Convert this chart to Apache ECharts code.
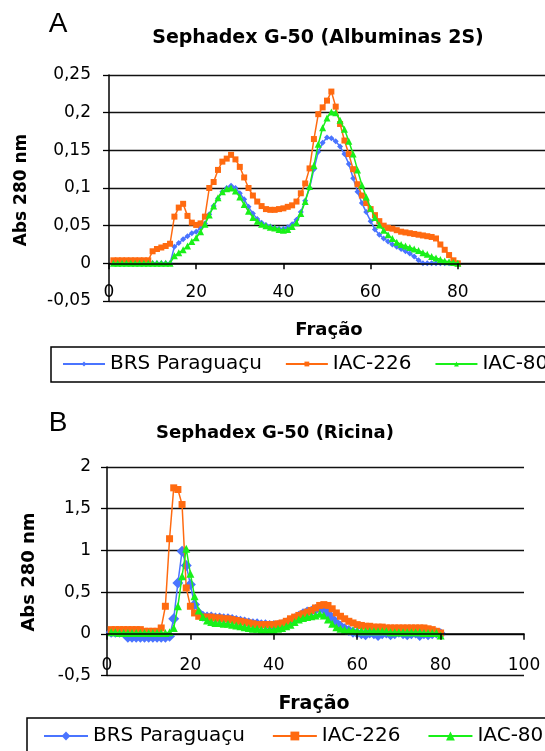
<!DOCTYPE html>
<html>
<head>
<meta charset="utf-8">
<script src="https://cdn.jsdelivr.net/npm/echarts@6/dist/echarts.min.js"></script>
<style>
html,body{margin:0;padding:0;background:#fff;}
#chart{width:545px;height:751px;}
</style>
</head>
<body>
<div id="chart"></div>
<script>
// ---- data ----
const seriesNames = ['BRS Paraguaçu', 'IAC-226', 'IAC-80'];
const fractions = [1,2,3,4,5,6,7,8,9,10,11,12,13,14,15,16,17,18,19,20,
  21,22,23,24,25,26,27,28,29,30,31,32,33,34,35,36,37,38,39,40,
  41,42,43,44,45,46,47,48,49,50,51,52,53,54,55,56,57,58,59,60,
  61,62,63,64,65,66,67,68,69,70,71,72,73,74,75,76,77,78,79,80];

// Panel A: Sephadex G-50 (Albuminas 2S)
const brsA = [0,0,0,0,0,0,0,0,0,0,0,0,0,0,
  0.022,0.027,0.032,0.036,0.04,0.042,
  0.047,0.053,0.065,0.076,0.086,0.095,0.1,0.103,0.1,0.093,
  0.085,0.075,0.066,0.059,0.054,0.051,0.049,0.047,0.046,0.046,
  0.048,0.052,0.058,0.068,0.083,0.1,0.125,0.148,0.16,0.167,
  0.166,0.162,0.155,0.145,0.132,0.113,0.095,0.08,0.068,0.056,
  0.045,0.038,0.033,0.029,0.025,0.022,0.019,0.016,0.013,0.009,
  0.004,0,0,0,0,0,0,0,0,0];
const iac226A = [0.004,0.004,0.004,0.004,0.004,0.004,0.004,0.004,0.004,
  0.016,0.019,0.021,0.023,0.026,0.062,0.074,0.079,0.063,0.054,0.051,
  0.053,0.062,0.1,0.108,0.124,0.135,0.139,0.144,0.138,0.128,
  0.114,0.1,0.09,0.082,0.076,0.072,0.071,0.071,0.072,0.073,
  0.075,0.077,0.082,0.093,0.106,0.126,0.165,0.198,0.207,0.216,
  0.228,0.208,0.185,0.163,0.145,0.125,0.105,0.09,0.08,0.072,
  0.064,0.056,0.05,0.047,0.046,0.044,0.042,0.041,0.04,0.039,
  0.038,0.037,0.036,0.035,0.033,0.025,0.018,0.011,0.004,0];
const iac80A = [0,0,0,0,0,0,0,0,0,0,0,0,0,0,
  0.01,0.014,0.018,0.023,0.029,0.034,
  0.042,0.052,0.064,0.076,0.087,0.095,0.099,0.1,0.096,0.088,
  0.078,0.069,0.061,0.056,0.052,0.05,0.048,0.047,0.045,0.044,
  0.045,0.049,0.054,0.066,0.082,0.102,0.13,0.158,0.18,0.193,
  0.201,0.2,0.19,0.178,0.162,0.145,0.124,0.104,0.088,0.073,
  0.061,0.051,0.044,0.038,0.033,0.028,0.025,0.023,0.021,0.019,
  0.017,0.014,0.012,0.009,0.007,0.005,0.003,0.002,0.001,0];

// Panel B: Sephadex G-50 (Ricina)
const brsB = [0.02,0.02,0.02,0.02,-0.04,-0.04,-0.04,-0.04,-0.04,-0.04,
  -0.04,-0.04,-0.04,-0.04,-0.03,0.18,0.61,0.99,0.82,0.59,
  0.35,0.25,0.21,0.2,0.2,0.19,0.19,0.18,0.18,0.17,
  0.16,0.15,0.14,0.13,0.12,0.12,0.11,0.11,0.1,0.1,
  0.1,0.11,0.13,0.15,0.18,0.21,0.24,0.26,0.27,0.29,
  0.31,0.29,0.24,0.18,0.13,0.09,0.06,0.04,0.02,0.01,
  0,-0.01,0.01,0,-0.02,0,0.01,-0.01,0,0.02,
  0,-0.01,0,0.01,-0.02,0,-0.01,0,0.01,0];
const iac226B = [0.05,0.05,0.05,0.05,0.05,0.05,0.05,0.05,0.03,0.03,
  0.03,0.03,0.07,0.33,1.14,1.75,1.73,1.55,0.55,0.33,
  0.25,0.21,0.2,0.2,0.2,0.19,0.19,0.18,0.18,0.17,
  0.16,0.15,0.14,0.13,0.12,0.11,0.11,0.11,0.11,0.11,
  0.12,0.13,0.15,0.18,0.2,0.22,0.24,0.26,0.28,0.31,
  0.34,0.35,0.34,0.3,0.25,0.21,0.18,0.15,0.13,0.11,
  0.1,0.09,0.09,0.08,0.08,0.08,0.07,0.07,0.07,0.07,
  0.07,0.07,0.07,0.07,0.07,0.07,0.06,0.05,0.03,0.01];
const iac80B = [0.02,0.02,0.01,0.01,0.01,0.01,0.01,0.01,0.01,0.01,
  0.01,0.01,0.01,0.01,0.02,0.07,0.33,0.69,1.02,0.72,
  0.45,0.28,0.2,0.16,0.14,0.13,0.13,0.12,0.12,0.11,
  0.1,0.09,0.08,0.07,0.06,0.06,0.05,0.05,0.05,0.05,
  0.06,0.07,0.09,0.11,0.14,0.17,0.19,0.2,0.21,0.22,
  0.24,0.22,0.17,0.12,0.08,0.06,0.05,0.04,0.04,0.03,
  0.03,0.03,0.03,0.03,0.03,0.03,0.03,0.02,0.02,0.02,
  0.02,0.02,0.02,0.02,0.02,0.01,0.01,0.01,0.01,-0.02];

const xTicks = {min: 0, max: 100, interval: 20};
const yTicksA = {min: -0.05, max: 0.25, interval: 0.05};
const yTicksB = {min: -0.5, max: 2, interval: 0.5};

// ---- styles ----
const colors = ['#4a74ff', '#ff6a10', '#19f019'];
const symbols = ['diamond', 'rect', 'triangle'];
const symSizeA = [6, 6, 7];
const symSizeB = [11, 7, 8];
const black = '#000';
const fmt = v => String(+(+v).toFixed(2)).replace('.', ',');

function pairs(vals) { return fractions.map((f, i) => [f, vals[i]]); }

function mkSeries(name, idx, vals, axis, sizes) {
  return {
    name: name, type: 'line', xAxisIndex: axis, yAxisIndex: axis,
    data: pairs(vals), symbol: symbols[idx], symbolSize: sizes[idx],
    lineStyle: {color: colors[idx], width: 1.5},
    itemStyle: {color: colors[idx]},
    animation: false, z: 3 + idx
  };
}

// x axis sits on y = 0 (shifted up from the grid bottom by "offset")
function xAxisCfg(grid, offset, margin, showMax) {
  return {
    type: 'value', gridIndex: grid, min: xTicks.min, max: xTicks.max, interval: xTicks.interval,
    position: 'bottom', offset: offset,
    axisLine: {show: true, onZero: false, lineStyle: {color: black, width: 1.5}},
    axisTick: {show: true, inside: false, length: 6, lineStyle: {color: black, width: 1.5}},
    axisLabel: {margin: margin, showMaxLabel: showMax, fontFamily: 'DejaVu Sans', fontSize: 17, color: black},
    splitLine: {show: false}, z: 10
  };
}
function yAxisCfg(grid, t, margin) {
  return {
    type: 'value', gridIndex: grid, min: t.min, max: t.max, interval: t.interval,
    axisLine: {show: true, onZero: false, lineStyle: {color: black, width: 1.5}},
    axisTick: {show: true, inside: false, length: 6, lineStyle: {color: black, width: 1.3}},
    axisLabel: {margin: margin, formatter: fmt, fontFamily: 'DejaVu Sans', fontSize: 17, color: black},
    splitLine: {show: true, lineStyle: {color: '#111', width: 1.4}}
  };
}
function txt(text, x, y, font, rot) {
  return {type: 'text', x: x, y: y, rotation: rot || 0, silent: true,
    style: {text: text, font: font, fill: black, align: 'center', verticalAlign: 'middle',
      textAlign: 'center', textVerticalAlign: 'middle'}};
}
function legendCfg(left, top, iw, ih, gap, padding) {
  return {
    data: seriesNames, left: left, top: top, width: 700, orient: 'horizontal',
    itemWidth: iw, itemHeight: ih, itemGap: gap, padding: padding,
    borderColor: black, borderWidth: 1.5, selectedMode: false,
    textStyle: {fontFamily: 'DejaVu Sans', fontSize: 20, color: black}
  };
}

const chart = echarts.init(document.getElementById('chart'), null, {renderer: 'canvas'});
chart.setOption({
  backgroundColor: '#fff',
  animation: false,
  grid: [
    {left: 109, top: 75, width: 445, height: 226},
    {left: 107, top: 467, width: 417, height: 208.5}
  ],
  xAxis: [xAxisCfg(0, -37.7, 21, false), xAxisCfg(1, -41.7, 23, true)],
  yAxis: [yAxisCfg(0, yTicksA, 18), yAxisCfg(1, yTicksB, 16)],
  legend: [
    legendCfg(51, 347, 42, 6, 23, [7, 10, 8, 11]),
    legendCfg(27, 718, 44, 11, 27, [8, 10, 10, 16])
  ],
  graphic: [
    txt('A', 58, 24, '28px "Liberation Sans"'),
    txt('Sephadex G-50 (Albuminas 2S)', 318, 38, 'bold 19px "DejaVu Sans"'),
    txt('Abs 280 nm', 22, 190, 'bold 17px "DejaVu Sans"', Math.PI / 2),
    txt('Fração', 329, 330, 'bold 18px "DejaVu Sans"'),
    txt('B', 58, 423, '28px "Liberation Sans"'),
    txt('Sephadex G-50 (Ricina)', 275, 433, 'bold 18px "DejaVu Sans"'),
    txt('Abs 280 nm', 29, 572, 'bold 18px "DejaVu Sans"', Math.PI / 2),
    txt('Fração', 314, 704, 'bold 19px "DejaVu Sans"')
  ],
  series: [
    mkSeries(seriesNames[0], 0, brsA, 0, symSizeA),
    mkSeries(seriesNames[1], 1, iac226A, 0, symSizeA),
    mkSeries(seriesNames[2], 2, iac80A, 0, symSizeA),
    mkSeries(seriesNames[0], 0, brsB, 1, symSizeB),
    mkSeries(seriesNames[1], 1, iac226B, 1, symSizeB),
    mkSeries(seriesNames[2], 2, iac80B, 1, symSizeB)
  ]
});
</script>
</body>
</html>
